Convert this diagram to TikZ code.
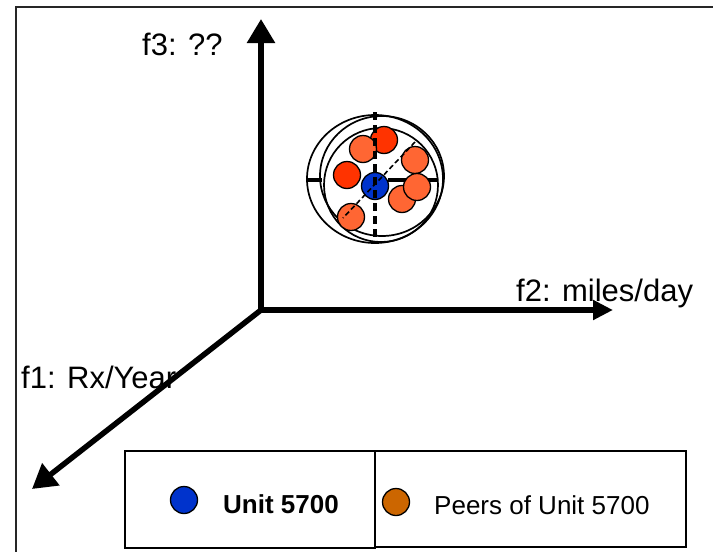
\documentclass[tikz,border=0pt]{standalone}
\usepackage{fontspec}
\setmainfont{Liberation Sans}
\usetikzlibrary{arrows.meta}

\definecolor{unitblue}{HTML}{0033CC}
\definecolor{peerlegend}{HTML}{CC6600}
\definecolor{peerred}{HTML}{FF3300}
\definecolor{peerorange}{HTML}{FF6633}

\begin{document}
\begin{tikzpicture}[
  x=1pt,y=-1pt,
  axis/.style={line width=5.5pt},
  axlabel/.style={anchor=base west,inner sep=0pt,font=\fontsize{31}{36}\selectfont},
  wire/.style={line width=1.7pt},
  tick/.style={line width=3.5pt},
  guide/.style={line width=3.5pt,dash pattern=on 8pt off 5pt},
  dot/.style={circle,draw,line width=1.3pt,minimum size=27pt,inner sep=0pt},
  legbox/.style={draw,line width=1.2pt,inner sep=0pt}
]
\useasboundingbox (0,0) rectangle (713,552);
% frame
\draw[line width=2pt,black!85] (16,552) -- (16,7) -- (713,7);

% axes
\coordinate (O) at (261,310);
\coordinate (f3tip) at (261,19);
\coordinate (f2tip) at (613,310);
\coordinate (f1tip) at (32,489);
\draw[axis,-{Triangle[length=24pt,width=27pt]}] (261,313) -- (f3tip);
\draw[axis,-{Triangle[length=20pt,width=19pt]}] (258,310) -- (f2tip);
\draw[axis,-{Triangle[length=24pt,width=27pt]}] (O) -- (f1tip);
\node[axlabel] (f3) at (142,55) {f3: ??};
\node[axlabel] (f2) at (516,301) {f2: miles/day};
\node[axlabel] (f1) at (21,388) {f1: Rx/Year};

% sphere of peers
\draw[wire] (375,179) ellipse [x radius=68pt,y radius=64pt];
\draw[wire] (382,176) ellipse [x radius=62pt,y radius=60pt];
\draw[wire] (381,185) ellipse [x radius=57pt,y radius=57pt];
\draw[tick] (306,180) -- (322,180);
\draw[tick] (388,180) -- (437,180);

\node[dot,fill=peerred]    (p1) at (384,140) {};
\node[dot,fill=peerorange] (p2) at (363,149) {};
\node[dot,fill=peerred]    (p3) at (347,175) {};
\node[dot,fill=peerorange] (p4) at (415,160) {};
\node[dot,fill=peerorange] (p5) at (402,199) {};
\node[dot,fill=peerorange] (p6) at (417,187) {};
\node[dot,fill=peerorange] (p7) at (351,217) {};
\node[dot,fill=unitblue]   (u)  at (375,186) {};

\draw[guide] (375,112) -- (375,242);
\draw[line width=1.6pt,dash pattern=on 5pt off 3pt] (415,142) -- (343,218);

% legend
\node[legbox,minimum width=250pt,minimum height=97pt] (leg1) at (250,499.5) {};
\node[legbox,minimum width=311pt,minimum height=96pt] (leg2) at (530.5,499) {};
\node[dot,fill=unitblue]   (kunit) at (184,500) {};
\node[dot,fill=peerlegend] (kpeer) at (396,502) {};
\node[anchor=base west,inner sep=0pt,font=\fontsize{26}{30}\selectfont\bfseries] (tunit) at (223,513) {Unit 5700};
\node[anchor=base west,inner sep=0pt,font=\fontsize{26}{30}\selectfont] (tpeer) at (434,514) {Peers of Unit 5700};
\end{tikzpicture}
\end{document}
